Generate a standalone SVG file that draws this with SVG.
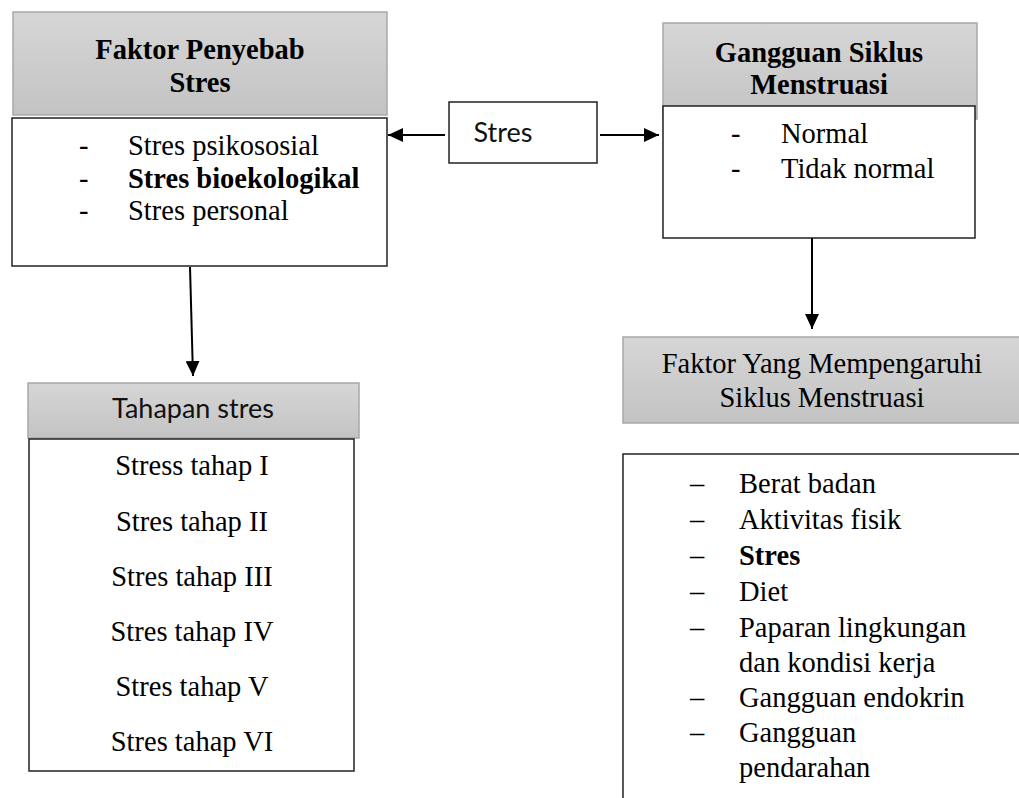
<svg xmlns="http://www.w3.org/2000/svg" width="1019" height="798" viewBox="0 0 1019 798">
<defs>
<linearGradient id="gr" x1="0" y1="0" x2="0" y2="1">
<stop offset="0" stop-color="#d6d6d6"/>
<stop offset="1" stop-color="#c3c3c3"/>
</linearGradient>
<marker id="ah" markerWidth="15" markerHeight="14" refX="15" refY="7" orient="auto" markerUnits="userSpaceOnUse">
<path d="M0,0 L15,7 L0,14 Z" fill="#000"/>
</marker>
<style>
.hd{fill:url(#gr);stroke:#a8a8a8;stroke-width:1.5}
.bx{fill:#fff;stroke:#222;stroke-width:1.5}
.t{font-family:"Liberation Serif","Times New Roman",serif;font-size:28.5px;fill:#000}
.b{font-weight:bold}
.c{text-anchor:middle}
.s{font-family:Lato,"Open Sans",sans-serif;font-size:27px;fill:#111}
.ln{stroke:#000;stroke-width:2;fill:none}
</style>
</defs>
<rect width="1019" height="798" fill="#fff"/>
<g id="faktor-penyebab">
<rect class="hd" x="13" y="12" width="374" height="103"/>
<rect class="bx" x="12" y="118" width="375" height="148"/>
<text class="t b c" x="200" y="59">Faktor Penyebab</text>
<text class="t b c" x="200" y="92">Stres</text>
<text class="t" x="79" y="155">-</text>
<text class="t" x="128" y="155">Stres psikososial</text>
<text class="t" x="79" y="188">-</text>
<text class="t b" x="128" y="188">Stres bioekologikal</text>
<text class="t" x="79" y="220">-</text>
<text class="t" x="128" y="220">Stres personal</text>
</g>
<g id="stres">
<rect class="bx" x="449" y="102" width="148" height="61"/>
<text class="s c" x="503" y="142">Stres</text>
</g>
<g id="gangguan-siklus">
<rect class="hd" x="663" y="23" width="314" height="96"/>
<rect class="bx" x="663" y="106" width="312" height="132"/>
<text class="t b c" x="819" y="62">Gangguan Siklus</text>
<text class="t b c" x="819" y="94">Menstruasi</text>
<text class="t" x="731" y="143">-</text>
<text class="t" x="781" y="143">Normal</text>
<text class="t" x="731" y="178">-</text>
<text class="t" x="781" y="178">Tidak normal</text>
</g>
<g id="tahapan-stres">
<rect class="hd" x="28" y="383" width="331" height="55"/>
<rect class="bx" x="29" y="439" width="325" height="332"/>
<text class="s c" x="193" y="418">Tahapan stres</text>
<text class="t c" x="192" y="475">Stress tahap I</text>
<text class="t c" x="192" y="531">Stres tahap II</text>
<text class="t c" x="192" y="586">Stres tahap III</text>
<text class="t c" x="192" y="641">Stres tahap IV</text>
<text class="t c" x="192" y="696">Stres tahap V</text>
<text class="t c" x="192" y="751">Stres tahap VI</text>
</g>
<g id="faktor-mempengaruhi">
<rect class="hd" x="623" y="337" width="410" height="86"/>
<text class="t c" x="822" y="373">Faktor Yang Mempengaruhi</text>
<text class="t c" x="822" y="407">Siklus Menstruasi</text>
</g>
<g id="faktor-list">
<path class="bx" d="M623,810 L623,454 L1030,454" fill="none"/>
<text class="t" x="690" y="493">–</text>
<text class="t" x="739" y="493">Berat badan</text>
<text class="t" x="690" y="529">–</text>
<text class="t" x="739" y="529">Aktivitas fisik</text>
<text class="t" x="690" y="565">–</text>
<text class="t b" x="739" y="565">Stres</text>
<text class="t" x="690" y="601">–</text>
<text class="t" x="739" y="601">Diet</text>
<text class="t" x="690" y="637">–</text>
<text class="t" x="739" y="637">Paparan lingkungan</text>
<text class="t" x="739" y="672">dan kondisi kerja</text>
<text class="t" x="690" y="707">–</text>
<text class="t" x="739" y="707">Gangguan endokrin</text>
<text class="t" x="690" y="742">–</text>
<text class="t" x="739" y="742">Gangguan</text>
<text class="t" x="739" y="777">pendarahan</text>
</g>
<g id="connectors">
<line class="ln" x1="445" y1="135" x2="388" y2="135" marker-end="url(#ah)"/>
<line class="ln" x1="600" y1="135" x2="659" y2="135" marker-end="url(#ah)"/>
<line class="ln" x1="190" y1="267" x2="193" y2="376" marker-end="url(#ah)"/>
<line class="ln" x1="812" y1="238" x2="812" y2="329" marker-end="url(#ah)"/>
</g>
</svg>
